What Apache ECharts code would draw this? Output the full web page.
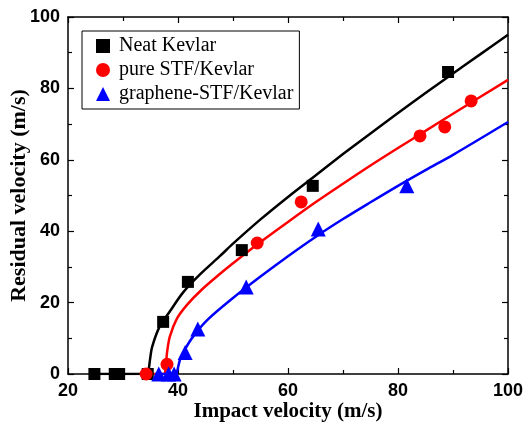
<!DOCTYPE html>
<html>
<head>
<meta charset="utf-8">
<script src="https://cdn.jsdelivr.net/npm/echarts@6/dist/echarts.min.js"></script>
<style>
  html, body { margin: 0; padding: 0; background: #fff; }
  #chart { width: 523px; height: 428px; }
</style>
</head>
<body>
<div id="chart"></div>
<script>
// measured points [impact, residual]
const neatPoints = [[24.8, 0], [28.5, 0], [29.3, 0], [34.5, 0], [37.3, 14.6], [41.8, 25.8], [51.6, 34.7], [64.5, 52.7], [89.1, 84.6]];
const pureStfPoints = [[34.2, 0], [38.0, 2.7], [54.4, 36.7], [62.4, 48.2], [84.0, 66.7], [88.5, 69.2], [93.3, 76.5]];
const grapheneStfPoints = [[36.5, 0], [38.3, 0], [39.3, 0], [41.3, 6.0], [43.6, 12.6], [52.4, 24.4], [65.5, 40.6], [81.6, 52.7]];

// fitted curves
const neatFit = [[24.8, 0], [34.4, 0], [34.6, 0.5], [34.9, 3.9], [35.3, 7.6], [36.7, 13.4], [38.5, 17.5], [40.9, 22.8], [44, 27.9], [47.6, 33], [50, 36.5], [55, 43.3], [60, 49.6], [65, 55.6], [70, 61.6], [75, 67.4], [80, 73.1], [85, 78.7], [90, 84.2], [95, 89.6], [100, 95]];
const pureStfFit = [[34.2, 0], [37.5, 0], [37.7, 1], [38, 5.9], [38.5, 10.4], [39.8, 15.5], [41.6, 19.3], [44.3, 23.6], [47.6, 28], [50, 31], [54.5, 36.4], [60, 42.6], [65, 48.1], [70, 53.3], [75, 58.4], [80, 63.3], [85, 68.1], [90, 72.9], [100, 82.4]];
const grapheneStfFit = [[36.5, 0], [39.6, 0], [39.8, 0.5], [40.4, 4.2], [41.3, 7], [42.7, 10.4], [45.3, 15.1], [50, 21.3], [55, 27.3], [60, 33], [65, 38.4], [70, 43.4], [75, 48.1], [80, 52.7], [85, 57.1], [90, 61.4], [100, 70.6]];

const seriesNames = ['Neat Kevlar', 'pure STF/Kevlar', 'graphene-STF/Kevlar'];
const seriesColors = ['#000000', '#ff0000', '#0000ff'];
const seriesSymbols = ['rect', 'circle', 'triangle'];

const chart = echarts.init(document.getElementById('chart'));

const tickFont = { fontFamily: 'Liberation Sans', fontWeight: 'bold', fontSize: 18, color: '#000' };
const axisLine = { show: true, onZero: false, lineStyle: { color: '#000', width: 1.5 } };

function frameAxis(position, showLabel) {
  return {
    type: 'value',
    position: position,
    axisLine: axisLine,
    axisTick: { show: true, inside: true, length: 6, lineStyle: { color: '#000', width: 1.2 } },
    minorTick: { show: true, splitNumber: 2, length: 4, lineStyle: { color: '#000', width: 1.2 } },
    splitLine: { show: false },
    axisLabel: showLabel ? Object.assign({ margin: 8 }, tickFont) : { show: false }
  };
}

const xBottom = Object.assign(frameAxis('bottom', true), {
  min: 20, max: 100, interval: 20,
  name: 'Impact velocity (m/s)',
  nameLocation: 'middle',
  nameGap: 27,
  nameMoveOverlap: false,
  nameTextStyle: { fontFamily: 'Liberation Serif', fontWeight: 'bold', fontSize: 21, color: '#000', verticalAlign: 'top' }
});
const xTop = Object.assign(frameAxis('top', false), { min: 20, max: 100, interval: 20 });
const yLeft = Object.assign(frameAxis('left', true), {
  min: 0, max: 100, interval: 20,
  name: 'Residual velocity (m/s)',
  nameLocation: 'middle',
  nameGap: 38,
  nameMoveOverlap: false,
  nameTextStyle: { fontFamily: 'Liberation Serif', fontWeight: 'bold', fontSize: 22, color: '#000' }
});
const yRight = Object.assign(frameAxis('right', false), { min: 0, max: 100, interval: 20 });

const pointSets = [neatPoints, pureStfPoints, grapheneStfPoints];
const fitSets = [neatFit, pureStfFit, grapheneStfFit];
const symbolSizes = [12, 13, 15];

const series = [];
fitSets.forEach((d, i) => {
  series.push({
    name: seriesNames[i] + ' fit',
    type: 'line',
    data: d,
    smooth: 0.3,
    showSymbol: false,
    lineStyle: { color: seriesColors[i], width: 2.5 },
    z: 2,
    silent: true
  });
});
pointSets.forEach((d, i) => {
  series.push({
    name: seriesNames[i],
    type: 'scatter',
    data: d,
    symbol: seriesSymbols[i],
    symbolSize: symbolSizes[i],
    itemStyle: { color: seriesColors[i], opacity: 1 },
    z: 3
  });
});

chart.setOption({
  animation: false,
  backgroundColor: '#fff',
  grid: { left: 68, right: 15, top: 17, bottom: 54, containLabel: false, outerBoundsMode: 'none' },
  xAxis: [xBottom, xTop],
  yAxis: [yLeft, yRight],
  legend: {
    data: seriesNames.map((n, i) => ({ name: n, icon: seriesSymbols[i] })),
    orient: 'vertical',
    left: 82,
    top: 31,
    backgroundColor: '#fff',
    borderColor: '#000',
    borderWidth: 1,
    padding: [5, 6, 5, 14],
    itemGap: 4,
    itemWidth: 14,
    itemHeight: 14,
    textStyle: { fontFamily: 'Liberation Serif', fontSize: 20, color: '#000', padding: [0, 0, 0, 4] }
  },
  series: series
});
</script>
</body>
</html>
